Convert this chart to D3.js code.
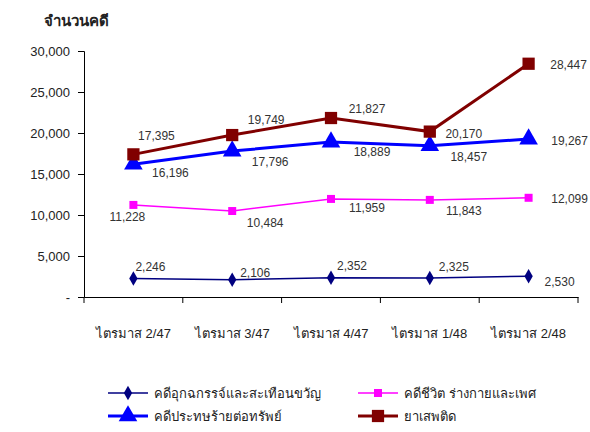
<!DOCTYPE html>
<html>
<head>
<meta charset="utf-8">
<script src="https://cdn.jsdelivr.net/npm/d3@7"></script>
<style>
  body { margin: 0; background: #fff; }
  text { font-family: "Liberation Sans", Arial, sans-serif; }
</style>
</head>
<body>
<div id="chart"></div>
<script>
const quarters = ['ไตรมาส 2/47', 'ไตรมาส 3/47', 'ไตรมาส 4/47', 'ไตรมาส 1/48', 'ไตรมาส 2/48'];
const seriesNames = ['คดีอุกฉกรรจ์และสะเทือนขวัญ', 'คดีชีวิต ร่างกายและเพศ', 'คดีประทษร้ายต่อทรัพย์', 'ยาเสพติด'];
const violentCases = [2246, 2106, 2352, 2325, 2530];
const lifeBodySexCases = [11228, 10484, 11959, 11843, 12099];
const propertyCases = [16196, 17796, 18889, 18457, 19267];
const drugCases = [17395, 19749, 21827, 20170, 28447];
const yTicks = [0, 5000, 10000, 15000, 20000, 25000, 30000];

const width = 590,
  height = 432;
const margin = { left: 84, right: 12, top: 51, bottom: 135 };

const svg = d3.select('#chart').append('svg').attr('width', width).attr('height', height);

const x = d3.scaleBand().domain(quarters).range([margin.left, width - margin.right]);
const y = d3.scaleLinear().domain([0, 30000]).range([height - margin.bottom, margin.top]);

// y axis
const yAxis = svg
  .append('g')
  .attr('transform', `translate(${margin.left},0)`)
  .call(
    d3
      .axisLeft(y)
      .tickValues(yTicks)
      .tickSize(6)
      .tickPadding(8)
      .tickFormat((d) => (d === 0 ? '-' : d3.format(',')(d)))
  );
yAxis.select('.domain').attr('stroke', '#000');
yAxis.selectAll('text').attr('font-size', 13).attr('fill', '#222');

// x axis
const xAxis = svg
  .append('g')
  .attr('transform', `translate(0,${y(0)})`)
  .call(d3.axisBottom(x).tickSize(0).tickPadding(32).tickSizeOuter(0));
xAxis.selectAll('text').attr('font-size', 13).attr('fill', '#222');
// ticks at band edges
xAxis
  .selectAll('line.edge')
  .data(d3.range(quarters.length + 1))
  .join('line')
  .attr('class', 'edge')
  .attr('x1', (i) => margin.left + i * x.step())
  .attr('x2', (i) => margin.left + i * x.step())
  .attr('y1', 0)
  .attr('y2', 6)
  .attr('stroke', '#000');

svg
  .append('text')
  .attr('x', 44)
  .attr('y', 26)
  .attr('font-size', 15)
  .attr('font-weight', 'bold')
  .attr('fill', '#222')
  .text('จำนวนคดี');

const cx = (i) => x(quarters[i]) + x.bandwidth() / 2;

// label offsets from each point (dx, dy)
const series = [
  { name: seriesNames[0], values: violentCases, color: '#000080', width: 1.5, marker: 'diamond', size: 60,
    offsets: [[17, -12], [23, -7], [21, -12], [24, -11], [31, 6]] },
  { name: seriesNames[1], values: lifeBodySexCases, color: '#FF00FF', width: 1.5, marker: 'square', size: 64,
    offsets: [[-6, 12], [33, 12], [36, 9], [34, 11], [41, 1]] },
  { name: seriesNames[2], values: propertyCases, color: '#0000FF', width: 3, marker: 'triangle', size: 150,
    offsets: [[37, 9], [38, 11], [41, 10], [39, 11], [41, 2]] },
  { name: seriesNames[3], values: drugCases, color: '#800000', width: 3, marker: 'square', size: 150,
    offsets: [[23, -19], [34, -15], [36, -9], [34, 2], [40, 1]] },
];

const symbolType = { diamond: d3.symbolDiamond, square: d3.symbolSquare, triangle: d3.symbolTriangle };

const line = d3
  .line()
  .x((d, i) => cx(i))
  .y((d) => y(d));

series.forEach((s) => {
  const g = svg.append('g');
  g.append('path')
    .attr('d', line(s.values))
    .attr('fill', 'none')
    .attr('stroke', s.color)
    .attr('stroke-width', s.width);
  g.selectAll('path.pt')
    .data(s.values)
    .join('path')
    .attr('class', 'pt')
    .attr('transform', (d, i) => `translate(${cx(i)},${y(d)})`)
    .attr('d', d3.symbol().type(symbolType[s.marker]).size(s.size))
    .attr('fill', s.color);
  g.selectAll('text')
    .data(s.values)
    .join('text')
    .attr('x', (d, i) => cx(i) + s.offsets[i][0])
    .attr('y', (d, i) => y(d) + s.offsets[i][1])
    .attr('dy', '0.35em')
    .attr('text-anchor', 'middle')
    .attr('font-size', 12)
    .attr('fill', '#333')
    .text((d) => d3.format(',')(d));
});

// legend
const legendPos = [
  [108, 393],
  [358, 393],
  [108, 416],
  [358, 416],
];
series.forEach((s, i) => {
  const [lx, ly] = legendPos[i];
  const g = svg.append('g').attr('transform', `translate(${lx},${ly})`);
  g.append('line').attr('x1', 0).attr('x2', 40).attr('stroke', s.color).attr('stroke-width', s.width);
  g.append('path')
    .attr('transform', 'translate(20,0)')
    .attr('d', d3.symbol().type(symbolType[s.marker]).size(s.size))
    .attr('fill', s.color);
  g.append('text')
    .attr('x', 46)
    .attr('dy', '0.35em')
    .attr('font-size', 13)
    .attr('fill', '#222')
    .text(s.name);
});
</script>
</body>
</html>
